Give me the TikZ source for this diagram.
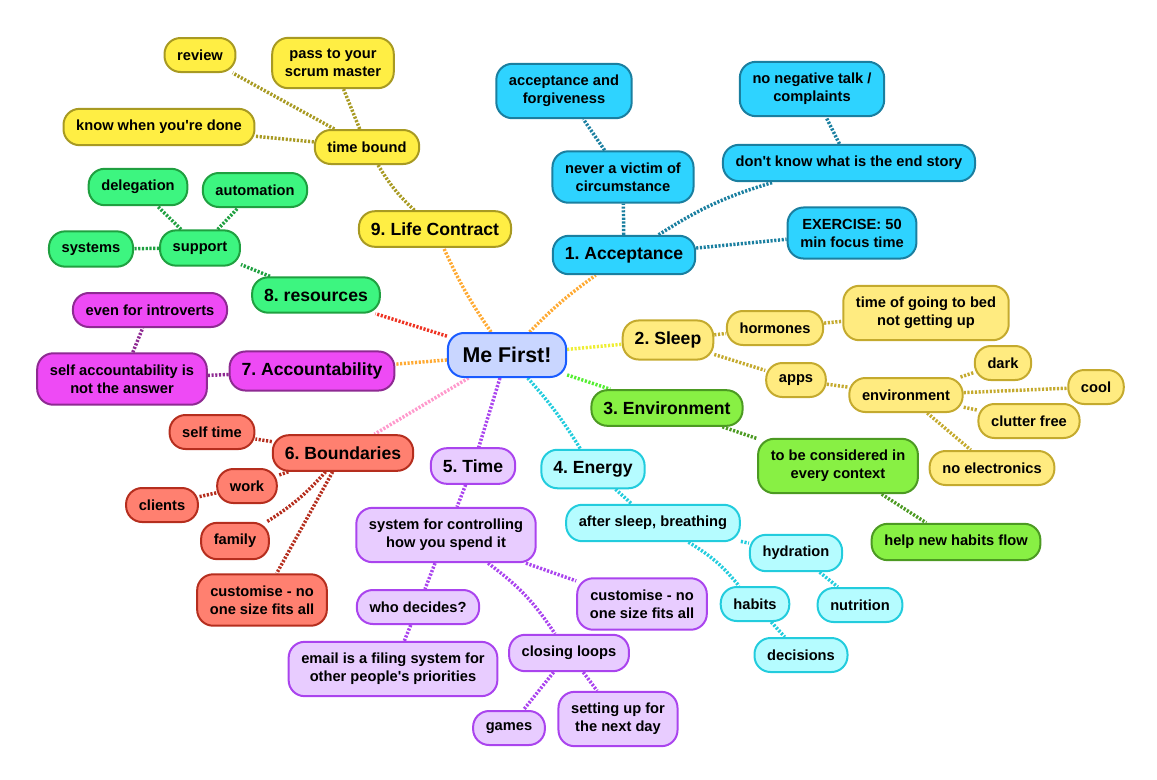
\documentclass[tikz,border=0pt]{standalone}
\usepackage{fontspec}
\setmainfont{Liberation Sans}
\usetikzlibrary{backgrounds}
\newcommand\leaffont{\fontsize{11}{13.5}\selectfont\bfseries\frenchspacing}
\newcommand\topicfont{\fontsize{13.2}{15}\selectfont\bfseries\frenchspacing}
\newcommand\rootfont{\fontsize{16}{18}\selectfont\bfseries}
\newcommand\apos{\textquotesingle}
\definecolor{mefill}{HTML}{C9D6FF}\definecolor{medraw}{HTML}{1A5CFF}
\definecolor{accfill}{HTML}{2ED3FF}\definecolor{accdraw}{HTML}{1A7FA0}
\definecolor{sleepfill}{HTML}{FFEB80}\definecolor{sleepdraw}{HTML}{C4AA2E}
\definecolor{envfill}{HTML}{88F044}\definecolor{envdraw}{HTML}{4C9A22}
\definecolor{energyfill}{HTML}{B5FCFF}\definecolor{energydraw}{HTML}{22CCDD}
\definecolor{timefill}{HTML}{E8CCFF}\definecolor{timedraw}{HTML}{AA44EE}
\definecolor{boundfill}{HTML}{FF8070}\definecolor{bounddraw}{HTML}{B52E1E}
\definecolor{accountfill}{HTML}{EE4AF5}\definecolor{accountdraw}{HTML}{8E2A92}
\definecolor{resfill}{HTML}{3DF580}\definecolor{resdraw}{HTML}{1FA040}
\definecolor{lifefill}{HTML}{FFEE44}\definecolor{lifedraw}{HTML}{A89A22}
\definecolor{linkorange}{HTML}{FFAA33}\definecolor{linkyellow}{HTML}{EEEE33}
\definecolor{linkgreen}{HTML}{55EE33}\definecolor{linkpink}{HTML}{FF99CC}
\definecolor{linkred}{HTML}{EE3322}
\tikzset{
  leaf/.style={draw, rounded corners=12pt, line width=1.5pt, inner xsep=9.5pt, inner ysep=8.5pt,
    minimum height=25.5pt, align=center, font=\leaffont},
  topic/.style={leaf, font=\topicfont, minimum height=26.5pt, inner xsep=9pt},
  link/.style={line width=2.6pt, dash pattern=on 1.6pt off 1.2pt},
  acc/.style={fill=accfill, draw=accdraw},
  sleep/.style={fill=sleepfill, draw=sleepdraw},
  env/.style={fill=envfill, draw=envdraw},
  energy/.style={fill=energyfill, draw=energydraw},
  time/.style={fill=timefill, draw=timedraw},
  bound/.style={fill=boundfill, draw=bounddraw},
  account/.style={fill=accountfill, draw=accountdraw},
  res/.style={fill=resfill, draw=resdraw},
  life/.style={fill=lifefill, draw=lifedraw}
}
\begin{document}
\begin{tikzpicture}[x=0.75pt, y=-0.75pt]
\useasboundingbox (0,0) rectangle (1157,779);
\node[leaf, font=\rootfont, fill=mefill, draw=medraw, minimum height=33pt, inner xsep=11pt] (me) at (507,355){Me First!};
% 1. Acceptance
\node[topic, acc] (acc) at (624,255){1. Acceptance};
\node[leaf, acc] (victim) at (623,177){never a victim of\\circumstance};
\node[leaf, acc] (forgive) at (564,91){acceptance and\\forgiveness};
\node[leaf, acc] (story) at (849,163){don\apos t know what is the end story};
\node[leaf, acc] (negative) at (812,89){no negative talk /\\complaints};
\node[leaf, acc] (exercise) at (852,233){EXERCISE: 50\\min focus time};
% 2. Sleep
\node[topic, sleep] (sleep) at (668,340){2. Sleep};
\node[leaf, sleep] (hormones) at (775,328){hormones};
\node[leaf, sleep] (bedtime) at (926,313){time of going to bed\\not getting up};
\node[leaf, sleep] (apps) at (796,380){apps};
\node[leaf, sleep] (sleepenv) at (906,395){environment};
\node[leaf, sleep] (dark) at (1003,363){dark};
\node[leaf, sleep] (cool) at (1096,387){cool};
\node[leaf, sleep] (clutter) at (1029,421){clutter free};
\node[leaf, sleep] (noelec) at (992,468){no electronics};
% 3. Environment
\node[topic, env] (env) at (667,408){3. Environment};
\node[leaf, env] (context) at (838,466){to be considered in\\every context};
\node[leaf, env] (flow) at (956,542){help new habits flow};
% 4. Energy
\node[topic, energy] (energy) at (593,469){4. Energy};
\node[leaf, energy] (breathing) at (653,523){after sleep, breathing};
\node[leaf, energy] (hydration) at (796,553){hydration};
\node[leaf, energy] (nutrition) at (860,605){nutrition};
\node[leaf, energy] (habits) at (755,604){habits};
\node[leaf, energy] (decisions) at (801,655){decisions};
% 5. Time
\node[topic, time] (time) at (473,466){5. Time};
\node[leaf, time] (controlling) at (446,535){system for controlling\\how you spend it};
\node[leaf, time] (decides) at (418,607){who decides?};
\node[leaf, time] (email) at (393,669){email is a filing system for\\other people\apos s priorities};
\node[leaf, time] (custtime) at (642,604){customise - no\\one size fits all};
\node[leaf, time] (loops) at (569,653){closing loops};
\node[leaf, time] (games) at (509,728){games};
\node[leaf, time] (nextday) at (618,719){setting up for\\the next day};
% 6. Boundaries
\node[topic, bound] (bound) at (343,453){6. Boundaries};
\node[leaf, bound] (selftime) at (212,432){self time};
\node[leaf, bound] (work) at (247,486){work};
\node[leaf, bound] (clients) at (162,505){clients};
\node[leaf, bound] (family) at (235,541){family};
\node[leaf, bound] (custbound) at (262,600){customise - no\\one size fits all};
% 7. Accountability
\node[topic, account] (account) at (312,371){7. Accountability};
\node[leaf, account] (selfacc) at (122,379){self accountability is\\not the answer};
\node[leaf, account] (introverts) at (150,310){even for introverts};
% 8. resources
\node[topic, res] (res) at (316,295){8. resources};
\node[leaf, res] (support) at (200,248){support};
\node[leaf, res] (systems) at (91,249){systems};
\node[leaf, res] (delegation) at (138,187){delegation};
\node[leaf, res] (automation) at (255,190){automation};
% 9. Life Contract
\node[topic, life] (life) at (435,229){9. Life Contract};
\node[leaf, life] (timebound) at (367,147){time bound};
\node[leaf, life] (done) at (159,127){know when you\apos re done};
\node[leaf, life] (review) at (200,55){review};
\node[leaf, life] (scrum) at (333,63){pass to your\\scrum master};
\begin{scope}[on background layer]
% main branches
\draw[link, linkorange] (me) to[bend left=5] (acc);
\draw[link, linkyellow] (me) -- (sleep);
\draw[link, linkgreen] (me) -- (env);
\draw[link, energydraw] (me) to[bend left=5] (energy);
\draw[link, timedraw] (me) -- (time);
\draw[link, linkpink] (me) -- (bound);
\draw[link, linkorange] (me) -- (account);
\draw[link, linkred] (me) -- (res);
\draw[link, linkorange] (me) to[bend left=5] (life);
% sub branches
\draw[link, accdraw] (acc) -- (victim);
\draw[link, accdraw] (victim) -- (forgive);
\draw[link, accdraw] (acc) to[bend left=8] (story);
\draw[link, accdraw] (story) -- (negative);
\draw[link, accdraw] (acc) -- (exercise);
\draw[link, sleepdraw] (sleep) -- (hormones);
\draw[link, sleepdraw] (hormones) -- (bedtime);
\draw[link, sleepdraw] (sleep) -- (apps);
\draw[link, sleepdraw] (apps) -- (sleepenv);
\draw[link, sleepdraw] (sleepenv) -- (dark);
\draw[link, sleepdraw] (sleepenv) -- (cool);
\draw[link, sleepdraw] (sleepenv) -- (clutter);
\draw[link, sleepdraw] (sleepenv) -- (noelec);
\draw[link, envdraw] (env) -- (context);
\draw[link, envdraw] (context) -- (flow);
\draw[link, energydraw] (energy) -- (breathing);
\draw[link, energydraw] (breathing) -- (hydration);
\draw[link, energydraw] (hydration) -- (nutrition);
\draw[link, energydraw] (breathing) to[bend left=10] (habits);
\draw[link, energydraw] (habits) -- (decisions);
\draw[link, timedraw] (time) -- (controlling);
\draw[link, timedraw] (controlling) -- (decides);
\draw[link, timedraw] (decides) -- (email);
\draw[link, timedraw] (controlling) -- (custtime);
\draw[link, timedraw] (controlling) to[bend left=10] (loops);
\draw[link, timedraw] (loops) -- (games);
\draw[link, timedraw] (loops) -- (nextday);
\draw[link, bounddraw] (bound) -- (selftime);
\draw[link, bounddraw] (bound) -- (work);
\draw[link, bounddraw] (work) -- (clients);
\draw[link, bounddraw] (bound) to[bend left=8] (family);
\draw[link, bounddraw] (bound) -- (custbound);
\draw[link, accountdraw] (account) -- (selfacc);
\draw[link, accountdraw] (selfacc) -- (introverts);
\draw[link, resdraw] (res) -- (support);
\draw[link, resdraw] (support) -- (systems);
\draw[link, resdraw] (support) -- (delegation);
\draw[link, resdraw] (support) -- (automation);
\draw[link, lifedraw] (life) to[bend left=8] (timebound);
\draw[link, lifedraw] (timebound) -- (done);
\draw[link, lifedraw] (timebound) -- (review);
\draw[link, lifedraw] (timebound) -- (scrum);
\end{scope}
\end{tikzpicture}
\end{document}
